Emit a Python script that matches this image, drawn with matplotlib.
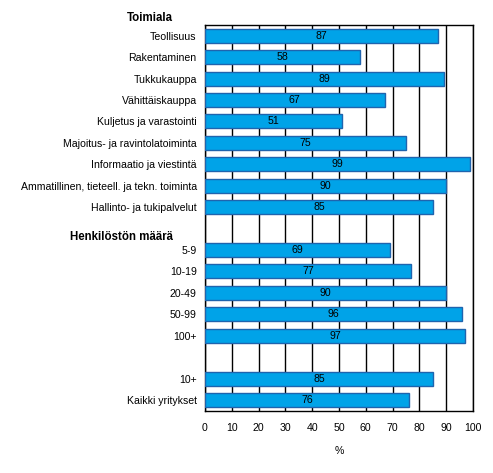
import matplotlib
matplotlib.use("Agg")
import matplotlib.pyplot as plt

plt.rcParams['font.family'] = ['Liberation Sans', 'DejaVu Sans']

categories = ["Teollisuus", "Rakentaminen", "Tukkukauppa", "Vähittäiskauppa",
              "Kuljetus ja varastointi", "Majoitus- ja ravintolatoiminta",
              "Informaatio ja viestintä", "Ammatillinen, tieteell. ja tekn. toiminta",
              "Hallinto- ja tukipalvelut", "",
              "5-9", "10-19", "20-49", "50-99", "100+", "",
              "10+", "Kaikki yritykset"]
values = [87, 58, 89, 67, 51, 75, 99, 90, 85, None,
          69, 77, 90, 96, 97, None,
          85, 76]
headers = ["Toimiala", "Henkilöstön määrä"]
header_rows = [-0.84, 9.4]
xticks = [0, 10, 20, 30, 40, 50, 60, 70, 80, 90, 100]

FS = 7.6
fig = plt.figure(figsize=(4.93, 4.73), dpi=100)
ax = fig.add_axes([205/493, 1-410.7/473, (473-205)/493, (410.7-25)/473])

ys = [i for i, v in enumerate(values) if v is not None]
vs = [v for v in values if v is not None]
ax.barh(ys, vs, height=0.65, color="#00A3E8", edgecolor="#1F64AE", linewidth=1, zorder=3)
for y, v in zip(ys, vs):
    ax.text(v/2, y, str(v), ha="center", va="center", fontsize=FS, zorder=4)

ax.set_xlim(0, 100)
ax.set_ylim(len(categories)-0.5, -0.5)
ax.set_xticks(xticks)
ax.set_xticklabels([str(t) for t in xticks], fontsize=FS)
ax.set_yticks(range(len(categories)))
ax.set_yticklabels(categories, fontsize=FS)
ax.tick_params(axis="y", length=0, pad=6)
ax.tick_params(axis="x", length=0, pad=9)
ax.xaxis.grid(True, color="black", linewidth=1, zorder=0)
ax.set_axisbelow(True)
for s in ax.spines.values():
    s.set_linewidth(1)
    s.set_color("black")
ax.set_xlabel("%", fontsize=FS, labelpad=9)

for h, r in zip(headers, header_rows):
    ax.annotate(h, xy=(0, r), xycoords=("axes fraction", "data"),
                xytext=(-32, 0), textcoords="offset pixels",
                ha="right", va="center", fontsize=8.3, fontweight="bold",
                annotation_clip=False)

fig.savefig("out.png", dpi=100)
